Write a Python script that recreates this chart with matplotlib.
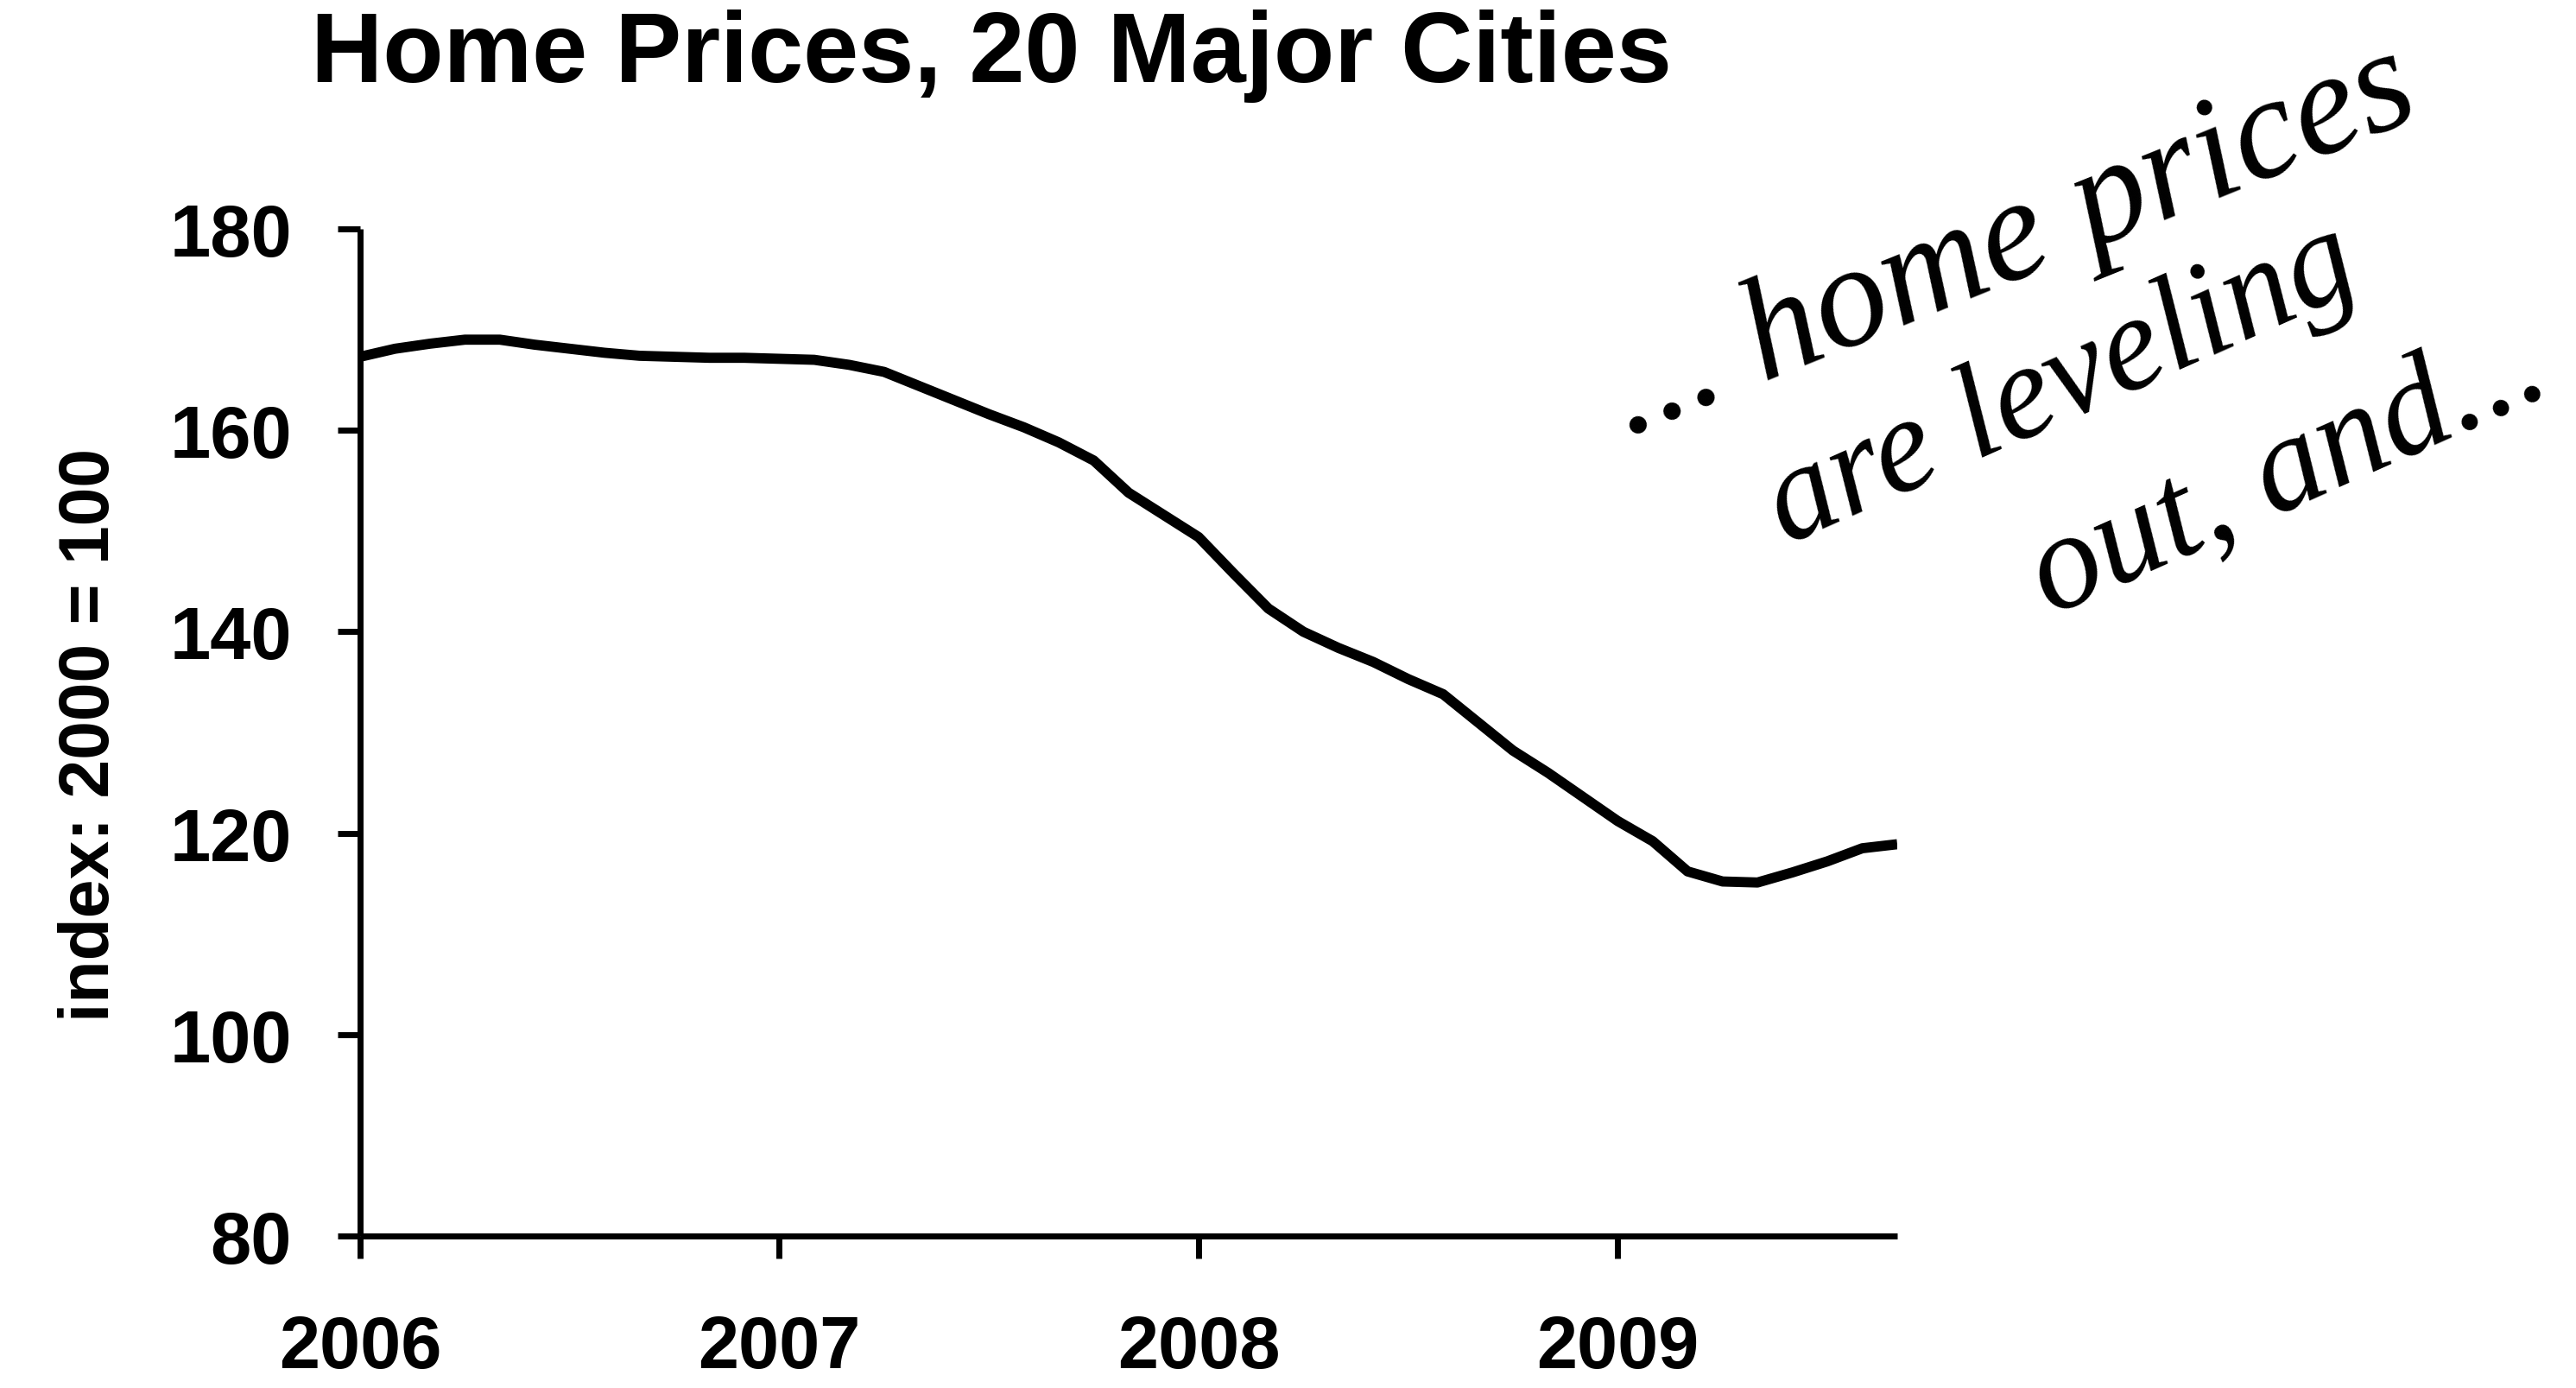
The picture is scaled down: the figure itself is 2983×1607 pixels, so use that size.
import matplotlib
matplotlib.use("Agg")
import matplotlib.pyplot as plt
import pandas as pd
import numpy as np

# ---- data ----
months = pd.date_range("2006-01-01", periods=45, freq="MS")
index_values = [167.3, 168.1, 168.6, 169.0, 169.0, 168.5, 168.1, 167.7, 167.4, 167.3, 167.2, 167.2, 167.1,
                167.0, 166.5, 165.8, 164.4, 163.0, 161.6, 160.3, 158.8, 157.0, 153.8, 151.6, 149.4,
                145.8, 142.3, 140.0, 138.4, 137.0, 135.3, 133.8, 131.0, 128.2, 126.0, 123.6, 121.2,
                119.2, 116.2, 115.2, 115.1, 116.1, 117.2, 118.5, 118.9]
year_ticks = [2006, 2007, 2008, 2009]
y_ticks = [80, 100, 120, 140, 160, 180]
title = "Home Prices, 20 Major Cities"
ylabel = "index: 2000 = 100"
note_lines = ["... home prices", "are leveling", "out, and..."]

x = months.year + (months.month - 1) / 12.0

W, H = 2983, 1608
fig = plt.figure(figsize=(W / 100, H / 100), dpi=100)
plt.rcParams['font.family'] = ['Liberation Sans', 'DejaVu Sans']

left, right = 417 / W, 2197 / W
bottom, top = 1 - 1432 / H, 1 - 266 / H
ax = fig.add_axes([left, bottom, right - left, top - bottom])

ax.plot(x, index_values, color="black", lw=8.5, solid_capstyle="butt", solid_joinstyle="round")

ax.set_xlim(2006, 2006 + 44 / 12)
ax.set_ylim(80, 180)
ax.set_xticks(year_ticks)
ax.set_xticklabels([str(y) for y in year_ticks])
ax.set_yticks(y_ticks)

for s in ["top", "right"]:
    ax.spines[s].set_visible(False)
for s in ["left", "bottom"]:
    ax.spines[s].set_linewidth(5)
    ax.spines[s].set_capstyle("butt")

ax.tick_params(axis="both", direction="out", length=19, width=5, color="black",
               labelsize=61)
ax.tick_params(axis="y", pad=38)
ax.tick_params(axis="x", pad=46)
for lab in ax.get_xticklabels() + ax.get_yticklabels():
    lab.set_fontweight("bold")

fig.text(1148 / W, 1 - 95 / H, title, ha="center", va="baseline",
         fontsize=83, fontweight="bold")
fig.text(105 / W, 1 - 851 / H, ylabel, ha="center", va="center", rotation=90,
         fontsize=58, fontweight="bold")

# handwritten-style annotation
note_pos = [(2330, 282, 22, 122), (2388, 447, 24, 112), (2650, 548, 24, 114)]
for txt, (px, py, rot, fs) in zip(note_lines, note_pos):
    fig.text(px / W, 1 - py / H, txt, ha="center", va="center", rotation=rot,
             rotation_mode="anchor", fontsize=fs, fontstyle="italic",
             family=["Liberation Serif", "DejaVu Serif"])

fig.savefig("out.png", dpi=100, facecolor="white")
